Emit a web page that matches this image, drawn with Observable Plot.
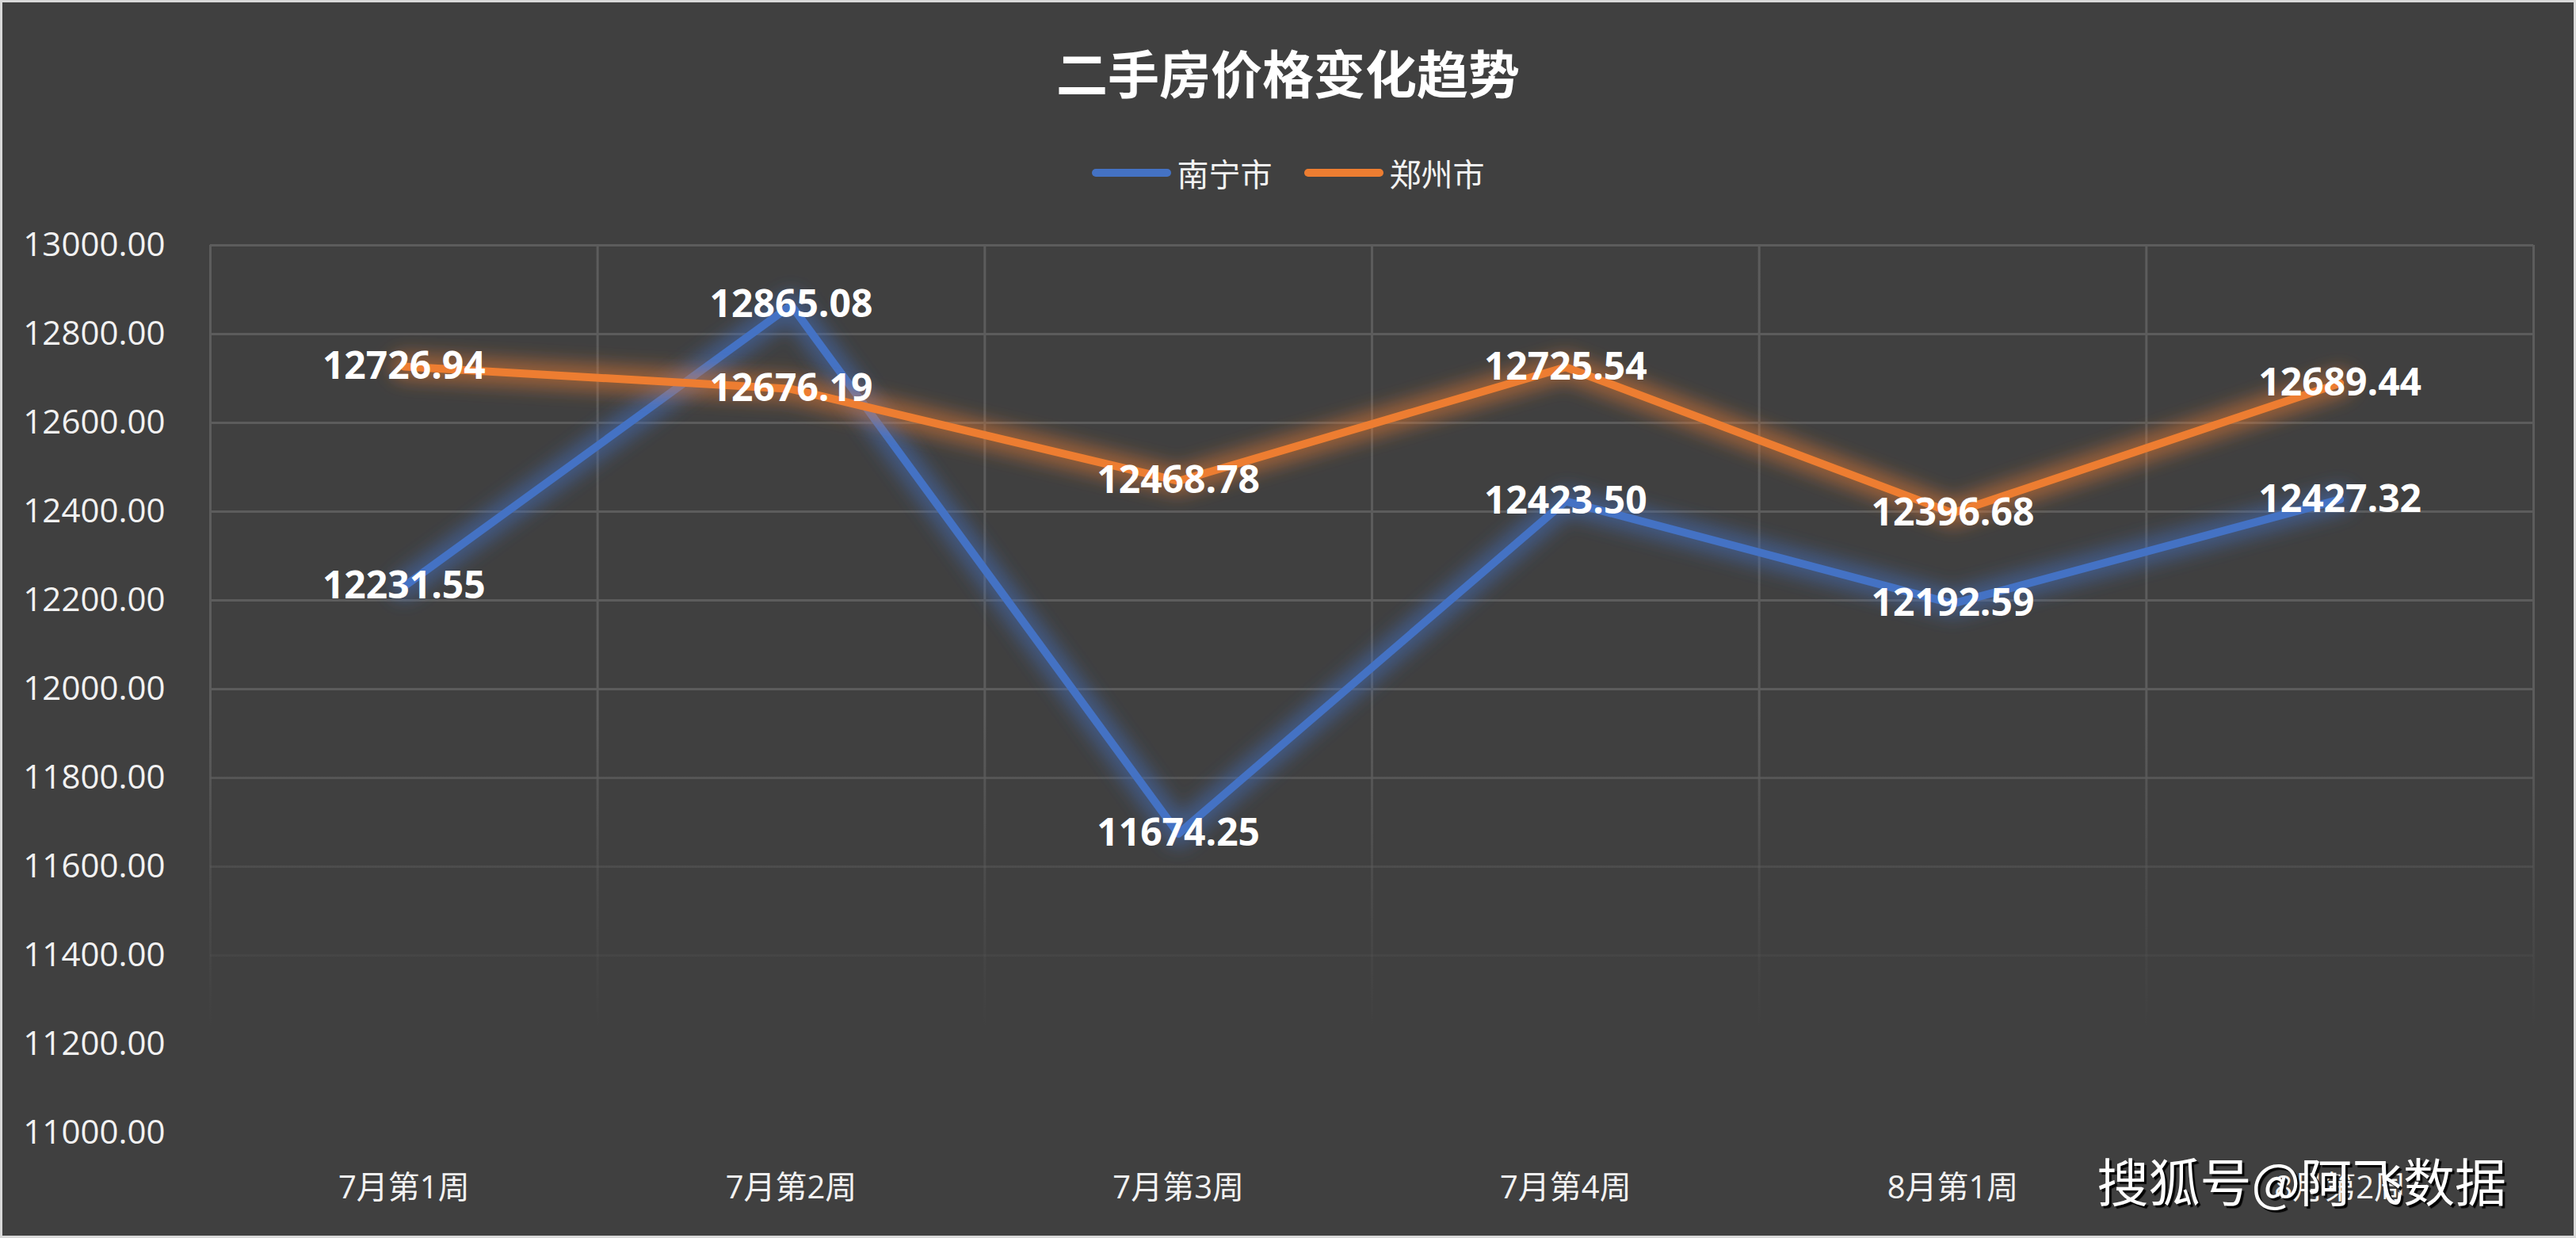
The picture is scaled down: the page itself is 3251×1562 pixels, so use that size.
<!DOCTYPE html>
<html>
<head>
<meta charset="utf-8">
<script src="https://cdn.jsdelivr.net/npm/d3@7"></script>
<script src="https://cdn.jsdelivr.net/npm/@observablehq/plot@0.6"></script>
<style>
  html, body { margin: 0; padding: 0; background: #404040; overflow: hidden; }
  #frame { position: relative; width: 3251px; height: 1562px; background: #404040; overflow: hidden;
           font-family: "Open Sans", "Noto Sans CJK SC", sans-serif; color: #fff; }
  #header { position: relative; width: 3251px; height: 260px; }
  #title { position: absolute; left: 0; width: 3251px; top: 52px; text-align: center;
           font-family: "Noto Sans CJK SC", sans-serif; font-weight: 700; font-size: 65px; line-height: 76px; color: #fff; }
  #legend { position: absolute; left: 0; width: 3251px; top: 192px; display: flex; justify-content: center; align-items: center;
            font-family: "Noto Sans CJK SC", sans-serif; font-size: 40px; line-height: 52px; color: #f2f2f2; }
  .item { display: flex; align-items: center; margin: 0 20px; }
  .swatch { width: 100px; height: 10px; border-radius: 5px; margin-right: 8px; }
  #chart svg { display: block; }
  #wm { position: absolute; right: 88px; top: 1450px; font-family: "Noto Sans CJK SC", sans-serif; font-size: 65px; line-height: 76px;
        color: #fff; text-shadow: 3px 3px 1px rgba(0,0,0,0.95); white-space: nowrap; }
  #border { position: absolute; left: 0; top: 0; width: 3251px; height: 1562px; box-sizing: border-box;
            border: 3px solid #d9d9d9; pointer-events: none; }
</style>
</head>
<body>
<div id="frame">
  <div id="header">
    <div id="title">二手房价格变化趋势</div>
    <div id="legend"></div>
  </div>
  <div id="chart"></div>
  <div id="wm">搜狐号@阿飞数据</div>
  <div id="border"></div>
</div>
<script>
const categories = ["7月第1周", "7月第2周", "7月第3周", "7月第4周", "8月第1周", "8月第2周"];
const seriesNames = ["南宁市", "郑州市"];
const nanning = [12231.55, 12865.08, 11674.25, 12423.50, 12192.59, 12427.32];
const zhengzhou = [12726.94, 12676.19, 12468.78, 12725.54, 12396.68, 12689.44];
const yTicks = [11000, 11200, 11400, 11600, 11800, 12000, 12200, 12400, 12600, 12800, 13000];
const colors = ["#4472C4", "#ED7D31"];

const rows = [];
[nanning, zhengzhou].forEach((vals, s) => {
  vals.forEach((v, i) => rows.push({series: seriesNames[s], idx: i + 0.5, cat: categories[i], value: v}));
});
const bounds = d3.range(categories.length + 1);
const centers = categories.map((c, i) => i + 0.5);

// legend
const legend = document.getElementById("legend");
seriesNames.forEach((n, i) => {
  const it = document.createElement("div");
  it.className = "item";
  it.innerHTML = `<span class="swatch" style="background:${colors[i]}"></span><span>${n}</span>`;
  legend.appendChild(it);
});

const W = 3251, H = 1302;
const marks = [
  Plot.ruleY(yTicks, {y: d => d, stroke: "url(#gridfade)", strokeWidth: 3}),
  Plot.ruleX(bounds, {x: d => d, stroke: "url(#gridfade)", strokeWidth: 3}),
  Plot.axisY({ticks: yTicks, tickFormat: d3.format(".2f"), tickSize: 0, tickPadding: 57, fontSize: 42, fill: "#f2f2f2", label: null}),
  Plot.axisX({ticks: centers, tickFormat: d => categories[Math.round(d - 0.5)], tickSize: 0, tickPadding: 54, fontSize: 40, fill: "#f2f2f2", label: null})
];
seriesNames.forEach((n, s) => {
  const data = rows.filter(r => r.series === n);
  marks.push(Plot.line(data, {x: "idx", y: "value", stroke: colors[s], strokeWidth: 34, strokeOpacity: 0.5, strokeLinejoin: "round", ariaDescription: "glow"}));
  marks.push(Plot.line(data, {x: "idx", y: "value", stroke: colors[s], strokeWidth: 10, strokeLinejoin: "round", strokeLinecap: "round"}));
});
marks.push(Plot.text(rows, {x: "idx", y: "value", text: d => d3.format(".2f")(d.value), fill: "#ffffff", fontSize: 48, fontWeight: "bold", textAnchor: "middle", lineAnchor: "middle"}));

const svg = Plot.plot({
  width: W, height: H,
  marginLeft: 265, marginRight: 54, marginTop: 49, marginBottom: 133,
  style: {background: "transparent", fontFamily: "'Open Sans', 'Noto Sans CJK SC', sans-serif", overflow: "visible"},
  x: {type: "linear", domain: [0, categories.length]},
  y: {type: "linear", domain: [11000, 13000]},
  marks
});

// gradient for fading gridlines toward bottom
const ns = "http://www.w3.org/2000/svg";
const defs = document.createElementNS(ns, "defs");
defs.innerHTML = `
  <linearGradient id="gridfade" gradientUnits="userSpaceOnUse" x1="0" y1="0" x2="0" y2="${H}">
    <stop offset="${(640/H).toFixed(4)}" stop-color="#5c5c5c" stop-opacity="1"/>
    <stop offset="${(833/H).toFixed(4)}" stop-color="#5c5c5c" stop-opacity="0.45"/>
    <stop offset="${(945/H).toFixed(4)}" stop-color="#5c5c5c" stop-opacity="0.2"/>
    <stop offset="${(1037/H).toFixed(4)}" stop-color="#5c5c5c" stop-opacity="0"/>
  </linearGradient>
  <filter id="glowblur" x="-20%" y="-50%" width="140%" height="200%"><feGaussianBlur stdDeviation="11"/></filter>`;
svg.insertBefore(defs, svg.firstChild);
svg.querySelectorAll('[aria-description="glow"]').forEach(g => g.setAttribute("filter", "url(#glowblur)"));
document.getElementById("chart").appendChild(svg);
</script>
</body>
</html>
